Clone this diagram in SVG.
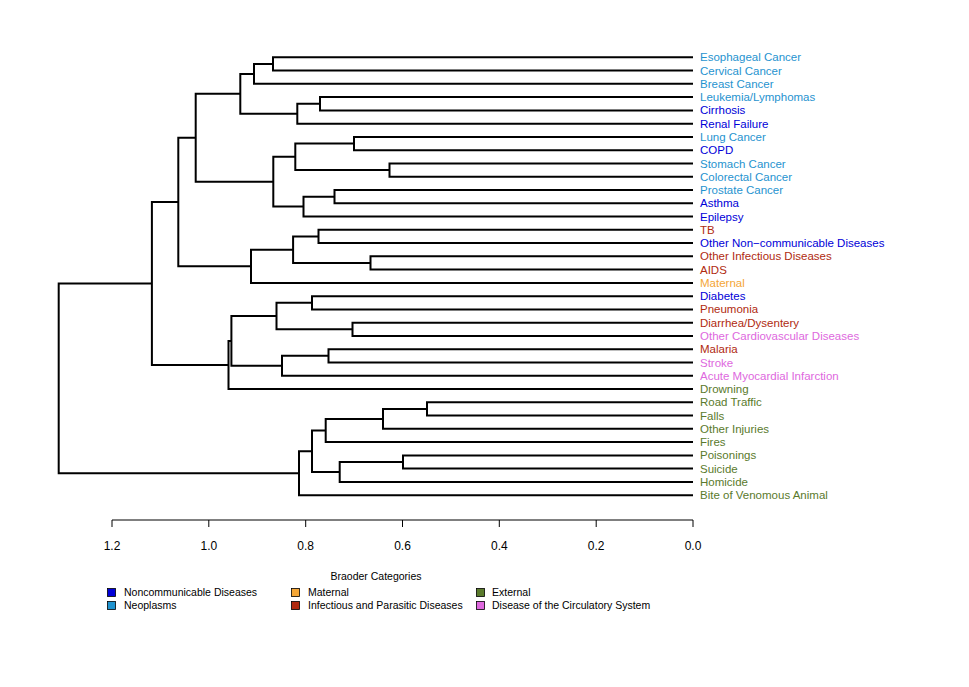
<svg xmlns="http://www.w3.org/2000/svg" width="969" height="687" viewBox="0 0 969 687">
<style>
text{font-family:"Liberation Sans",Arial,sans-serif}
.lbl{font-size:11.5px}
.ax{font-size:12px;text-anchor:middle;fill:#000}
.lg{font-size:10.5px;fill:#000}
.e{fill:none;stroke:#000;stroke-width:2}
.t{fill:none;stroke:#000;stroke-width:1}
.neo{fill:#1f93cf}
.ncd{fill:#0000d8}
.mat{fill:#f4a636}
.inf{fill:#b02a10}
.ext{fill:#5a7a2c}
.cir{fill:#de68de}
.sq{stroke:#000;stroke-width:0.8}
</style>
<rect width="969" height="687" fill="#fff"/>
<g id="connectors" class="e">
<path d="M693,57.3H273V70.6H693"/>
<path d="M273,63.95H254V83.8H693"/>
<path d="M693,97.1H320V110.4H693"/>
<path d="M320,103.75H297.3V123.7H693"/>
<path d="M254,73.9H240.3V113.7H297.3"/>
<path d="M693,136.9H354V150.2H693"/>
<path d="M693,163.5H389.5V176.7H693"/>
<path d="M354,143.55H295.3V170.1H389.5"/>
<path d="M693,190H334.5V203.3H693"/>
<path d="M334.5,196.65H303.5V216.5H693"/>
<path d="M295.3,156.8H273.3V206.6H303.5"/>
<path d="M240.3,93.8H195.7V181.7H273.3"/>
<path d="M693,229.8H318.5V243.1H693"/>
<path d="M693,256.3H370.5V269.6H693"/>
<path d="M318.5,236.45H293.1V262.95H370.5"/>
<path d="M293.1,249.7H251V282.9H693"/>
<path d="M195.7,137.75H178.3V266.3H251"/>
<path d="M693,296.2H312V309.4H693"/>
<path d="M693,322.7H352.5V336H693"/>
<path d="M312,302.8H276.5V329.35H352.5"/>
<path d="M693,349.2H328.5V362.5H693"/>
<path d="M328.5,355.85H282V375.8H693"/>
<path d="M276.5,316.1H231.4V365.8H282"/>
<path d="M231.4,340.95H228.5V389H693"/>
<path d="M178.3,202H151.9V365H228.5"/>
<path d="M693,402.3H427V415.6H693"/>
<path d="M427,408.95H383V428.8H693"/>
<path d="M383,418.9H325.7V442.1H693"/>
<path d="M693,455.4H403V468.6H693"/>
<path d="M403,462H339.7V481.9H693"/>
<path d="M325.7,430.5H312V471.95H339.7"/>
<path d="M312,451.2H299V495.2H693"/>
<path d="M151.9,283.5H58.7V473.2H299"/>
</g>
<g id="leaves" class="lbl">
<g id="n-esophageal"><text x="700" y="61.3" class="neo">Esophageal Cancer</text></g>
<g id="n-cervical"><text x="700" y="74.6" class="neo">Cervical Cancer</text></g>
<g id="n-breast"><text x="700" y="87.8" class="neo">Breast Cancer</text></g>
<g id="n-leukemia"><text x="700" y="101.1" class="neo">Leukemia/Lymphomas</text></g>
<g id="n-cirrhosis"><text x="700" y="114.4" class="ncd">Cirrhosis</text></g>
<g id="n-renal"><text x="700" y="127.7" class="ncd">Renal Failure</text></g>
<g id="n-lung"><text x="700" y="140.9" class="neo">Lung Cancer</text></g>
<g id="n-copd"><text x="700" y="154.2" class="ncd">COPD</text></g>
<g id="n-stomach"><text x="700" y="167.5" class="neo">Stomach Cancer</text></g>
<g id="n-colorectal"><text x="700" y="180.7" class="neo">Colorectal Cancer</text></g>
<g id="n-prostate"><text x="700" y="194" class="neo">Prostate Cancer</text></g>
<g id="n-asthma"><text x="700" y="207.3" class="ncd">Asthma</text></g>
<g id="n-epilepsy"><text x="700" y="220.5" class="ncd">Epilepsy</text></g>
<g id="n-tb"><text x="700" y="233.8" class="inf">TB</text></g>
<g id="n-otherncd"><text x="700" y="247.1" class="ncd">Other Non−communicable Diseases</text></g>
<g id="n-otherinf"><text x="700" y="260.3" class="inf">Other Infectious Diseases</text></g>
<g id="n-aids"><text x="700" y="273.6" class="inf">AIDS</text></g>
<g id="n-maternal"><text x="700" y="286.9" class="mat">Maternal</text></g>
<g id="n-diabetes"><text x="700" y="300.2" class="ncd">Diabetes</text></g>
<g id="n-pneumonia"><text x="700" y="313.4" class="inf">Pneumonia</text></g>
<g id="n-diarrhea"><text x="700" y="326.7" class="inf">Diarrhea/Dysentery</text></g>
<g id="n-othercv"><text x="700" y="340" class="cir">Other Cardiovascular Diseases</text></g>
<g id="n-malaria"><text x="700" y="353.2" class="inf">Malaria</text></g>
<g id="n-stroke"><text x="700" y="366.5" class="cir">Stroke</text></g>
<g id="n-ami"><text x="700" y="379.8" class="cir">Acute Myocardial Infarction</text></g>
<g id="n-drowning"><text x="700" y="393" class="ext">Drowning</text></g>
<g id="n-road"><text x="700" y="406.3" class="ext">Road Traffic</text></g>
<g id="n-falls"><text x="700" y="419.6" class="ext">Falls</text></g>
<g id="n-otherinj"><text x="700" y="432.8" class="ext">Other Injuries</text></g>
<g id="n-fires"><text x="700" y="446.1" class="ext">Fires</text></g>
<g id="n-poisonings"><text x="700" y="459.4" class="ext">Poisonings</text></g>
<g id="n-suicide"><text x="700" y="472.6" class="ext">Suicide</text></g>
<g id="n-homicide"><text x="700" y="485.9" class="ext">Homicide</text></g>
<g id="n-bite"><text x="700" y="499.2" class="ext">Bite of Venomous Animal</text></g>
</g>
<g id="axis">
<path class="t" d="M112,520H693M112,520V527M208.8,520V527M305.7,520V527M402.5,520V527M499.3,520V527M596.2,520V527M693,520V527"/>
<text class="ax" x="112" y="550">1.2</text>
<text class="ax" x="208.8" y="550">1.0</text>
<text class="ax" x="305.7" y="550">0.8</text>
<text class="ax" x="402.5" y="550">0.6</text>
<text class="ax" x="499.3" y="550">0.4</text>
<text class="ax" x="596.2" y="550">0.2</text>
<text class="ax" x="693" y="550">0.0</text>
</g>
<g id="legend">
<text class="lg" x="376" y="580" text-anchor="middle">Braoder Categories</text>
<rect class="sq ncd" x="107.5" y="588.5" width="8" height="8"/>
<rect class="sq neo" x="107.5" y="601.5" width="8" height="8"/>
<rect class="sq mat" x="291.5" y="588.5" width="8" height="8"/>
<rect class="sq inf" x="291.5" y="601.5" width="8" height="8"/>
<rect class="sq ext" x="476.5" y="588.5" width="8" height="8"/>
<rect class="sq cir" x="476.5" y="601.5" width="8" height="8"/>
<text class="lg" x="124" y="596">Noncommunicable Diseases</text>
<text class="lg" x="124" y="609">Neoplasms</text>
<text class="lg" x="308" y="596">Maternal</text>
<text class="lg" x="308" y="609">Infectious and Parasitic Diseases</text>
<text class="lg" x="492" y="596">External</text>
<text class="lg" x="492" y="609">Disease of the Circulatory System</text>
</g>
</svg>
